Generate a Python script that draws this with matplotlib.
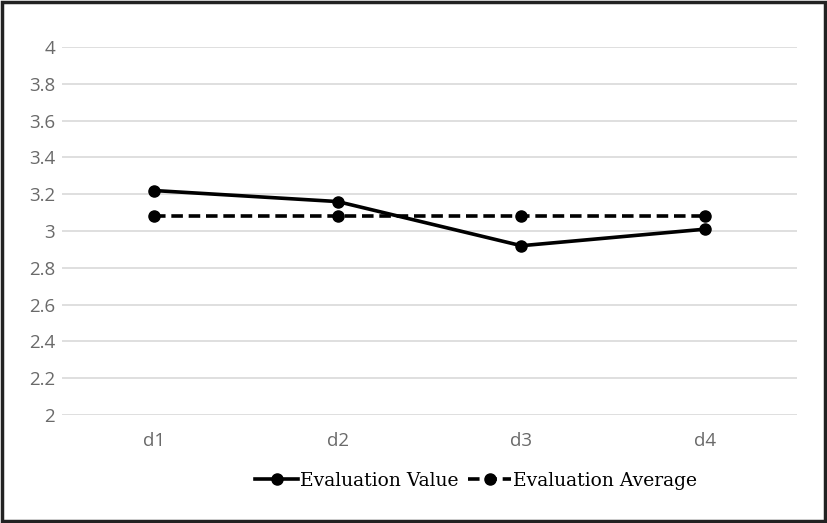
import matplotlib
matplotlib.use("Agg")
import matplotlib.pyplot as plt
from matplotlib.patches import Rectangle

categories = ["d1", "d2", "d3", "d4"]
eval_value = [3.22, 3.16, 2.92, 3.01]
eval_average = [3.08, 3.08, 3.08, 3.08]
yticks = [2, 2.2, 2.4, 2.6, 2.8, 3, 3.2, 3.4, 3.6, 3.8, 4]
ytick_labels = ["2", "2.2", "2.4", "2.6", "2.8", "3", "3.2", "3.4", "3.6", "3.8", "4"]

fig = plt.figure(figsize=(8.27, 5.23), dpi=100)
ax = fig.add_axes([62/827, 108/523, 735/827, 368/523])

x = list(range(len(categories)))
ax.plot(x, eval_value, color="black", linewidth=2.6, marker="o", markersize=8,
        label="Evaluation Value", zorder=3)
ax.plot(x, eval_average, color="black", linewidth=2.6, linestyle=(0, (3.2, 1.6)), marker="o",
        markersize=8, label="Evaluation Average", zorder=3)

ax.set_xlim(-0.5, 3.5)
ax.set_ylim(2, 4)
ax.set_yticks(yticks)
ax.set_yticklabels(ytick_labels)
ax.set_xticks(x)
ax.set_xticklabels(categories)
ax.grid(axis="y", color="#d9d9d9", linewidth=1.2)
ax.set_axisbelow(True)
for s in ax.spines.values():
    s.set_visible(False)
ax.tick_params(length=0, labelsize=13.5, labelcolor="#6a6a6a", pad=5)
ax.tick_params(axis="x", pad=12)
for lbl in ax.get_xticklabels() + ax.get_yticklabels():
    lbl.set_fontfamily("Open Sans")

leg = fig.legend(loc="center", bbox_to_anchor=(476/827, 1 - 481/523), ncol=2, frameon=False,
                 prop={"family": "DejaVu Serif", "size": 13.5}, handlelength=2.3,
                 handletextpad=0.1, columnspacing=0.5)

fig.patches.append(Rectangle((0.002, 0.003), 0.996, 0.994, transform=fig.transFigure,
                             fill=False, edgecolor="#222222", linewidth=2.5))
fig.savefig("out.png", dpi=100)
